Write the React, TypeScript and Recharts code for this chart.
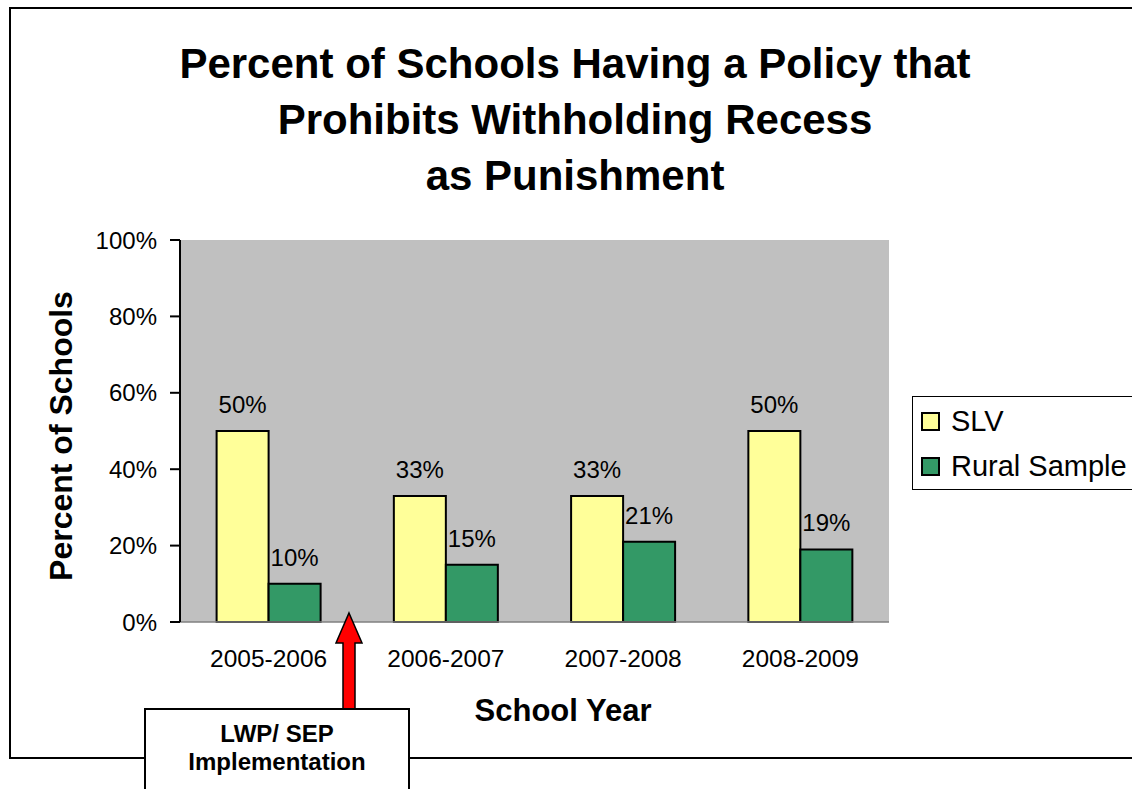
import React from 'react';
import { BarChart, Bar, XAxis, YAxis, CartesianGrid, Legend, LabelList, Label } from 'recharts';

// School years on the category axis and the two compared series (percent values).
const YEARS = ['2005-2006', '2006-2007', '2007-2008', '2008-2009'];
const SLV = [50, 33, 33, 50];
const RURAL = [10, 15, 21, 19];
const Y_TICKS = [0, 20, 40, 60, 80, 100];

const SERIES = [
  { key: 'slv', name: 'SLV', color: '#FFFF99' },
  { key: 'rural', name: 'Rural Sample', color: '#339966' },
];

const data = YEARS.map((year, i) => ({ year, slv: SLV[i], rural: RURAL[i] }));

const FONT = "'Liberation Sans', Arial, Helvetica, sans-serif";
const pct = (v: number | string) => `${v}%`;

// legend keeps series order (recharts would sort it by name otherwise)
function LegendBox({ payload }: { payload?: any[] }) {
  const shown = SERIES.filter((s) => (payload ?? []).some((p) => p.value === s.name));
  return (
    <div
      style={{
        boxSizing: 'border-box',
        width: 230,
        height: 94,
        border: '1.5px solid #000',
        background: '#fff',
        padding: '2px 0 0 8px',
        fontFamily: FONT,
      }}
    >
      {shown.map((s) => (
        <div key={s.key} style={{ display: 'flex', alignItems: 'center', height: 45, gap: 11 }}>
          <span
            style={{
              boxSizing: 'border-box',
              width: 19,
              height: 19,
              background: s.color,
              border: '2px solid #000',
              flexShrink: 0,
            }}
          />
          <span style={{ fontSize: 29, color: '#000', whiteSpace: 'nowrap' }}>{s.name}</span>
        </div>
      ))}
    </div>
  );
}

export default function App() {
  return (
    <div
      style={{
        position: 'absolute',
        left: 0,
        top: 0,
        width: 1132,
        height: 789,
        overflow: 'hidden',
        background: '#fff',
        fontFamily: FONT,
      }}
    >
      {/* outer frame, open on the right */}
      <div
        style={{
          position: 'absolute',
          left: 9,
          top: 7,
          width: 1200,
          height: 752,
          boxSizing: 'border-box',
          border: '2px solid #000',
        }}
      />

      {/* title */}
      <div
        style={{
          position: 'absolute',
          left: 75,
          top: 36,
          width: 1000,
          textAlign: 'center',
          fontSize: 42,
          fontWeight: 700,
          lineHeight: '56px',
          color: '#000',
        }}
      >
        Percent of Schools Having a Policy that
        <br />
        Prohibits Withholding Recess
        <br />
        as Punishment
      </div>

      <div style={{ position: 'absolute', left: 0, top: 0 }}>
        <BarChart
          width={1132}
          height={789}
          data={data}
          margin={{ top: 240, right: 243, bottom: 47, left: 100 }}
          barCategoryGap="20.65%"
          barGap={0}
        >
          <CartesianGrid fill="#C0C0C0" horizontal={false} vertical={false} />
          <XAxis
            xAxisId="top"
            orientation="top"
            dataKey="year"
            height={0}
            tick={false}
            tickLine={false}
            axisLine={{ stroke: '#808080', strokeWidth: 1.5 }}
          />
          <YAxis
            yAxisId="right"
            orientation="right"
            width={0}
            domain={[0, 100]}
            tick={false}
            tickLine={false}
            axisLine={{ stroke: '#808080', strokeWidth: 1.5 }}
          />
          <XAxis
            dataKey="year"
            height={120}
            tickLine={false}
            tickSize={10}
            tickMargin={18}
            axisLine={{ stroke: '#808080', strokeWidth: 1.5 }}
            tick={{ fill: '#000', fontSize: 24.5 }}
            label={
              <Label
                content={() => (
                  <text x={563} y={721} textAnchor="middle" fontSize={31} fontWeight={700} fill="#000">
                    School Year
                  </text>
                )}
              />
            }
          />
          <YAxis
            width={80}
            domain={[0, 100]}
            ticks={Y_TICKS}
            interval={0}
            tickFormatter={pct}
            tickSize={10}
            tickMargin={13}
            axisLine={{ stroke: '#000', strokeWidth: 2 }}
            tickLine={{ stroke: '#000', strokeWidth: 2 }}
            tick={{ fill: '#000', fontSize: 24 }}
            label={
              <Label
                content={() => (
                  <text
                    x={72}
                    y={436}
                    transform="rotate(-90 72 436)"
                    textAnchor="middle"
                    fontSize={32}
                    fontWeight={700}
                    fill="#000"
                  >
                    Percent of Schools
                  </text>
                )}
              />
            }
          />
          <Legend
            layout="vertical"
            align="center"
            verticalAlign="middle"
            wrapperStyle={{ left: 912, top: 396, width: 230, height: 94 }}
            content={(props: any) => <LegendBox payload={props.payload} />}
          />
          {SERIES.map((s) => (
            <Bar
              key={s.key}
              dataKey={s.key}
              name={s.name}
              fill={s.color}
              stroke="#000"
              strokeWidth={2}
              isAnimationActive={false}
            >
              <LabelList dataKey={s.key} position="top" offset={18} formatter={pct} fill="#000" fontSize={24} />
            </Bar>
          ))}
        </BarChart>
      </div>

      {/* implementation arrow */}
      <svg style={{ position: 'absolute', left: 0, top: 0 }} width={1132} height={789}>
        <polygon
          points="349,613 362,643 355,643 355,710 343,710 343,643 336,643"
          fill="#FF0000"
          stroke="#000"
          strokeWidth={1.5}
          strokeLinejoin="miter"
        />
      </svg>

      {/* annotation box */}
      <div
        style={{
          position: 'absolute',
          left: 144,
          top: 708,
          width: 266,
          height: 100,
          boxSizing: 'border-box',
          border: '2px solid #000',
          background: '#fff',
          textAlign: 'center',
          fontSize: 24,
          fontWeight: 700,
          lineHeight: '28px',
          paddingTop: 10,
          color: '#000',
        }}
      >
        LWP/ SEP
        <br />
        Implementation
      </div>
    </div>
  );
}
